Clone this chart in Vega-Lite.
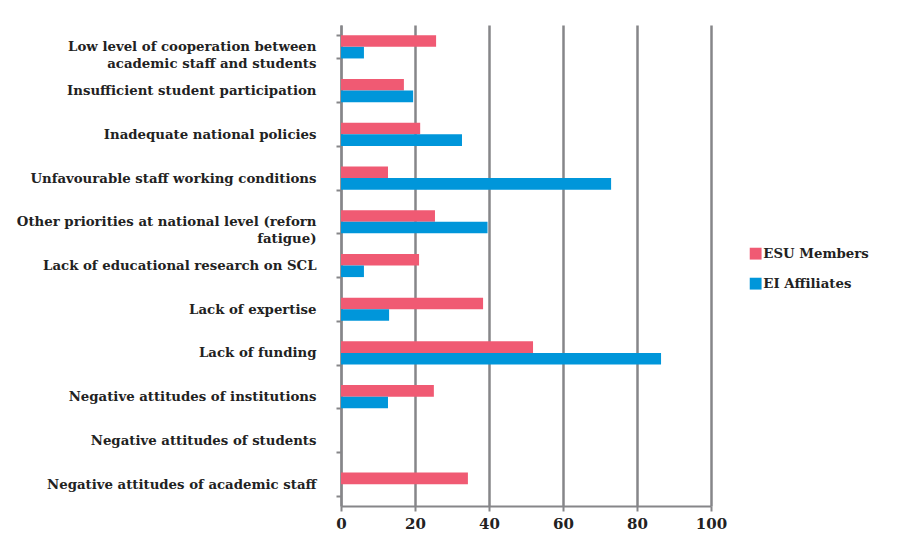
{
  "$schema": "https://vega.github.io/schema/vega-lite/v6.json",
  "width": 370,
  "height": 481,
  "autosize": "none",
  "padding": {"left": 341, "top": 25, "right": 186, "bottom": 40},
  "background": "white",
  "data": {
    "values": [
      {"cause": "Low level of cooperation between|academic staff and students", "group": "ESU Members", "value": 25.7},
      {"cause": "Low level of cooperation between|academic staff and students", "group": "EI Affiliates", "value": 6.2},
      {"cause": "Insufficient student participation", "group": "ESU Members", "value": 17.0},
      {"cause": "Insufficient student participation", "group": "EI Affiliates", "value": 19.5},
      {"cause": "Inadequate national policies", "group": "ESU Members", "value": 21.4},
      {"cause": "Inadequate national policies", "group": "EI Affiliates", "value": 32.7},
      {"cause": "Unfavourable staff working conditions", "group": "ESU Members", "value": 12.7},
      {"cause": "Unfavourable staff working conditions", "group": "EI Affiliates", "value": 73.0},
      {"cause": "Other priorities at national level (reforn|fatigue)", "group": "ESU Members", "value": 25.4},
      {"cause": "Other priorities at national level (reforn|fatigue)", "group": "EI Affiliates", "value": 39.6},
      {"cause": "Lack of educational research on SCL", "group": "ESU Members", "value": 21.1},
      {"cause": "Lack of educational research on SCL", "group": "EI Affiliates", "value": 6.2},
      {"cause": "Lack of expertise", "group": "ESU Members", "value": 38.4},
      {"cause": "Lack of expertise", "group": "EI Affiliates", "value": 13.0},
      {"cause": "Lack of funding", "group": "ESU Members", "value": 51.9},
      {"cause": "Lack of funding", "group": "EI Affiliates", "value": 86.5},
      {"cause": "Negative attitudes of institutions", "group": "ESU Members", "value": 25.1},
      {"cause": "Negative attitudes of institutions", "group": "EI Affiliates", "value": 12.7},
      {"cause": "Negative attitudes of students", "group": "ESU Members", "value": 0},
      {"cause": "Negative attitudes of students", "group": "EI Affiliates", "value": 0},
      {"cause": "Negative attitudes of academic staff", "group": "ESU Members", "value": 34.3},
      {"cause": "Negative attitudes of academic staff", "group": "EI Affiliates", "value": 0}
    ]
  },
  "mark": {"type": "bar"},
  "encoding": {
    "y": {
      "field": "cause",
      "type": "nominal",
      "sort": null,
      "scale": {"paddingInner": 0.47, "paddingOuter": 0.235},
      "axis": {
        "title": null,
        "labelExpr": "isString(datum.value) ? split(datum.value, '|') : ''",
        "labelFont": "DejaVu Serif",
        "labelFontWeight": "bold",
        "labelFontSize": 13.3,
        "labelColor": "#222222",
        "labelLimit": 400,
        "labelPadding": 20,
        "labelLineHeight": 17,
        "tickBand": "extent",
        "tickSize": 5,
        "tickWidth": 2,
        "tickColor": "#868689",
        "domainColor": "#868689",
        "domainWidth": 2,
        "grid": false
      }
    },
    "yOffset": {
      "field": "group",
      "type": "nominal",
      "sort": ["ESU Members", "EI Affiliates"]
    },
    "x": {
      "field": "value",
      "type": "quantitative",
      "scale": {"domain": [0, 100], "nice": false},
      "axis": {
        "title": null,
        "values": [0, 20, 40, 60, 80, 100],
        "labelFlush": false,
        "labelFont": "DejaVu Serif",
        "labelFontWeight": "bold",
        "labelFontSize": 15,
        "labelColor": "#222222",
        "labelPadding": 5,
        "tickSize": 5,
        "tickWidth": 2,
        "tickColor": "#868689",
        "domainColor": "#868689",
        "domainWidth": 2,
        "grid": true,
        "gridColor": "#868689",
        "gridWidth": 2.5
      }
    },
    "color": {
      "field": "group",
      "type": "nominal",
      "scale": {"domain": ["ESU Members", "EI Affiliates"], "range": ["#F05A73", "#0096DA"]},
      "legend": {
        "title": null,
        "orient": "none",
        "legendX": 408,
        "legendY": 222,
        "symbolType": "square",
        "symbolSize": 140,
        "symbolStrokeWidth": 0,
        "symbolOpacity": 1,
        "labelFont": "DejaVu Serif",
        "labelFontWeight": "bold",
        "labelFontSize": 13.3,
        "labelColor": "#222222",
        "labelOffset": 1,
        "rowPadding": 16
      }
    }
  },
  "config": {
    "view": {"stroke": null},
    "axis": {"gridOpacity": 1}
  }
}
